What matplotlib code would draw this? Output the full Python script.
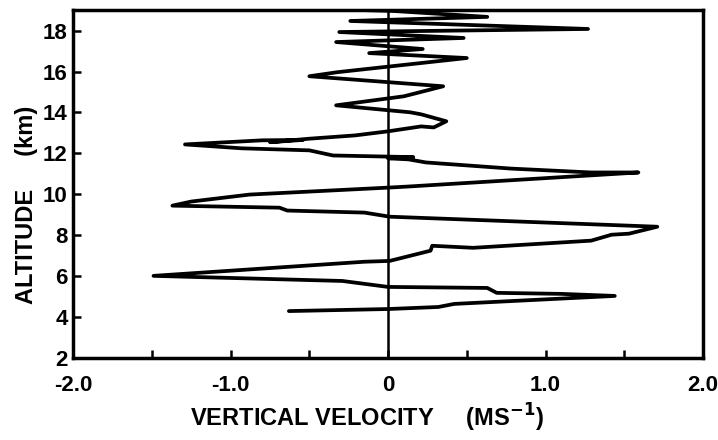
import matplotlib
matplotlib.use("Agg")
import matplotlib.pyplot as plt

# Vertical velocity profile (m/s) vs altitude (km), traced from bottom to top
velocity = [-0.63, 0.00, 0.32, 0.42, 1.44, 1.10, 0.69, 0.63, 0.00, -0.29,
            -1.49, -0.15, 0.01, 0.27, 0.28, 0.54, 1.29, 1.42, 1.53, 1.71,
            0.01, -0.15, -0.64, -0.69, -1.37, -1.25, -0.88, 0.00, 0.12, 1.59,
            1.29, 0.78, 0.24, 0.13, 0.00, 0.16, -0.35, -0.50, -0.93, -1.29,
            -0.80, -0.54, -0.75, -0.50, -0.21, 0.00, 0.21, 0.29, 0.37, 0.21,
            0.14, -0.33, 0.10, 0.35, -0.50, -0.32, 0.50, -0.12, 0.22, -0.33,
            0.48, -0.31, 1.27, -0.24, 0.63, 0.03, -0.61]
altitude = [4.30, 4.40, 4.50, 4.65, 5.04, 5.14, 5.19, 5.43, 5.48, 5.77,
            6.02, 6.71, 6.75, 7.25, 7.49, 7.39, 7.74, 8.03, 8.08, 8.42,
            8.91, 9.11, 9.21, 9.35, 9.45, 9.65, 9.99, 10.33, 10.38, 11.07,
            11.07, 11.26, 11.56, 11.71, 11.76, 11.82, 11.90, 12.15, 12.25, 12.44,
            12.64, 12.66, 12.55, 12.72, 12.88, 13.08, 13.32, 13.27, 13.57, 13.91,
            14.01, 14.35, 14.79, 15.28, 15.77, 15.97, 16.66, 16.90, 17.10, 17.44,
            17.64, 17.93, 18.08, 18.47, 18.67, 18.96, 19.10]

xticks_major = [-2.0, -1.0, 0.0, 1.0, 2.0]
xtick_labels = ["-2.0", "-1.0", "0", "1.0", "2.0"]
xticks_minor = [-1.5, -0.5, 0.5, 1.5]
yticks = [2, 4, 6, 8, 10, 12, 14, 16, 18]
ytick_labels = ["2", "4", "6", "8", "10", "12", "14", "16", "18"]

FONT = ["Liberation Sans", "DejaVu Sans"]

fig = plt.figure(figsize=(7.18, 4.40), dpi=100)
ax = fig.add_axes([0.102, 0.186, 0.877, 0.791])

ax.axvline(0, color="black", lw=1.8, zorder=2)
ax.plot(velocity, altitude, color="black", lw=2.7, solid_capstyle="round",
        solid_joinstyle="round", zorder=3)

ax.set_xlim(-2.0, 2.0)
ax.set_ylim(2, 19)

ax.set_xticks(xticks_major)
ax.set_xticklabels(xtick_labels)
ax.set_xticks(xticks_minor, minor=True)
ax.set_yticks(yticks)
ax.set_yticklabels(ytick_labels)

for s in ax.spines.values():
    s.set_linewidth(2.5)

ax.tick_params(axis="x", which="both", direction="in", length=6, width=1.8,
               labelsize=16, pad=12)
ax.tick_params(axis="y", which="both", direction="in", length=6, width=1.8,
               labelsize=16, pad=4)
for lab in ax.get_xticklabels() + ax.get_yticklabels():
    lab.set_fontweight("bold")
    lab.set_family(FONT)

fig.text(367 / 718, 1 - 418 / 440, "VERTICAL VELOCITY     (MS$^{\\mathbf{-1}}$)",
         ha="center", va="center", fontsize=17, fontweight="bold",
         family=FONT)
fig.text(27 / 718, 1 - 205 / 440, "ALTITUDE     (km)", rotation=90,
         ha="center", va="center", fontsize=17, fontweight="bold",
         family=FONT)

fig.savefig("out.png", dpi=100)
